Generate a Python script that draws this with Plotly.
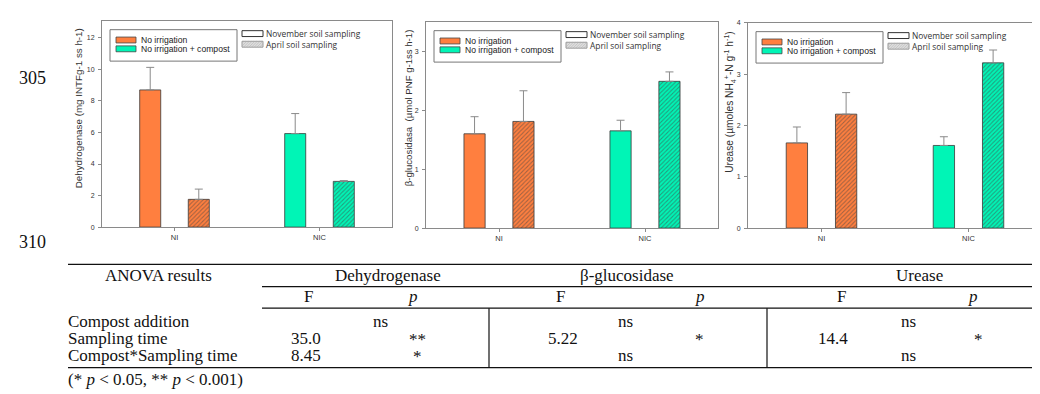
import plotly.graph_objects as go

W, H = 1040, 394

# ---------------- data ----------------
categories = ["NI", "NIC"]

dehyd_nov = [8.70, 5.93]
dehyd_nov_err = [1.43, 1.27]
dehyd_apr = [1.76, 2.90]
dehyd_apr_err = [0.65, 0.05]

gluc_nov = [1.60, 1.65]
gluc_nov_err = [0.29, 0.18]
gluc_apr = [1.81, 2.49]
gluc_apr_err = [0.52, 0.16]

urease_nov = [1.66, 1.61]
urease_nov_err = [0.31, 0.17]
urease_apr = [2.22, 3.22]
urease_apr_err = [0.42, 0.25]

treatments = ["No irrigation", "No irrigation + compost"]
samplings = ["November soil sampling", "April soil sampling"]

y_titles = [
    "Dehydrogenase (mg INTFg-1 ss h-1)",
    "β-glucosidasa  (µmol PNF g-1ss h-1)",
    "Urease (µmoles NH<sub>4</sub><sup>+</sup>-N g<sup>-1</sup> h<sup>-1</sup>)",
]
y_ranges = [[0, 13.08], [0, 3.5], [0, 4.0]]
y_dticks = [2, 1, 1]

anova_header = "ANOVA results"
anova_enzymes = ["Dehydrogenase", "β-glucosidase", "Urease"]
anova_rows = ["Compost addition", "Sampling time", "Compost*Sampling time"]
anova_dehyd = [["ns"], ["35.0", "**"], ["8.45", "*"]]
anova_gluc = [["ns"], ["5.22", "*"], ["ns"]]
anova_urease = [["ns"], ["14.4", "*"], ["ns"]]
anova_note = "(* <i>p</i> &lt; 0.05, ** <i>p</i> &lt; 0.001)"
line_numbers = ["305", "310"]

# ---------------- style ----------------
ORANGE = "#FF7F3F"
GREEN = "#00F5B6"
HATCH = ["#7a3414", "#00745a"]
COLORS = [ORANGE, GREEN]
FRAME = "#8a8a8a"
SANS = "Liberation Sans, Arial, sans-serif"
SERIF = "Liberation Serif, Times New Roman, serif"


def px(x):
    return x / W


def py(y):
    return 1 - y / H


# panel pixel boxes: left, right, top, bottom
panels = [(94, 384, 9, 219), (418, 710, 10, 220), (740, 1034, 11, 220)]
title_dx = [-24, -18, -17.5]
title_cy = [98, 98, 92]
title_fs = [9.8, 9.6, 10.2]
data = [
    (dehyd_nov, dehyd_nov_err, dehyd_apr, dehyd_apr_err),
    (gluc_nov, gluc_nov_err, gluc_apr, gluc_apr_err),
    (urease_nov, urease_nov_err, urease_apr, urease_apr_err),
]

fig = go.Figure()
layout = dict(
    width=W, height=H, margin=dict(l=0, r=0, t=0, b=0),
    paper_bgcolor="white", plot_bgcolor="white", showlegend=False,
    font=dict(family=SANS, color="#333"),
)
shapes = []
annotations = []

BW = 0.145
for i, ((l, r, t, b), (nov, nov_e, apr, apr_e)) in enumerate(zip(panels, data)):
    k = "" if i == 0 else str(i + 1)
    xa, ya = "x" + k, "y" + k
    fig.add_trace(go.Bar(
        x=categories, y=nov, xaxis=xa, yaxis=ya, width=BW, offset=-0.24,
        marker=dict(color=COLORS, line=dict(color="#3a3a3a", width=0.8)),
        error_y=dict(type="data", array=nov_e, arrayminus=[0, 0], symmetric=False,
                     color="#8a8a8a", thickness=1, width=4),
        name=samplings[0],
    ))
    fig.add_trace(go.Bar(
        x=categories, y=apr, xaxis=xa, yaxis=ya, width=BW, offset=0.095,
        marker=dict(color=COLORS, line=dict(color="#3a3a3a", width=0.8),
                    pattern=dict(shape="/", fillmode="overlay", fgcolor=HATCH,
                                 size=3, solidity=0.35)),
        error_y=dict(type="data", array=apr_e, arrayminus=[0, 0], symmetric=False,
                     color="#8a8a8a", thickness=1, width=4),
        name=samplings[1],
    ))
    layout["xaxis" + k] = dict(
        domain=[px(l), px(r)], anchor=ya, range=[-0.5, 1.5], type="category",
        showline=True, linecolor=FRAME, linewidth=1, mirror=True,
        ticks="outside", ticklen=3, tickcolor=FRAME, showgrid=False,
        tickfont=dict(size=7.5, color="#333"),
    )
    layout["yaxis" + k] = dict(
        domain=[py(b), py(t)], anchor=xa, range=y_ranges[i], dtick=y_dticks[i],
        showline=True, linecolor=FRAME, linewidth=1, mirror=True,
        ticks="outside", ticklen=3, tickcolor=FRAME, showgrid=False,
        zeroline=False, tickfont=dict(size=7, color="#333"),
        ticklabelstandoff=2,
    )
    # y axis title
    annotations.append(dict(
        x=px(l + title_dx[i]), y=py(title_cy[i]),
        xref="paper", yref="paper",
        text=y_titles[i], textangle=-90, showarrow=False,
        font=dict(size=title_fs[i], color="#333"),
        xanchor="center", yanchor="middle",
    ))
    # treatment legend box
    shapes.append(dict(type="rect", xref="paper", yref="paper",
                       x0=px(l + 8), x1=px(l + 135), y0=py(t + 41), y1=py(t + 9),
                       line=dict(color="#777", width=1), fillcolor="white"))
    for j, name in enumerate(treatments):
        cy = t + 19.5 + 9 * j
        shapes.append(dict(type="rect", xref="paper", yref="paper",
                           x0=px(l + 14), x1=px(l + 34), y0=py(cy + 3), y1=py(cy - 3),
                           line=dict(color="#444", width=0.8), fillcolor=COLORS[j]))
        annotations.append(dict(x=px(l + 37), y=py(cy), xref="paper", yref="paper",
                                text=name, showarrow=False, xanchor="left",
                                yanchor="middle", font=dict(size=8.6, color="#222")))
    # sampling legend
    x0, x1 = l + 140, l + 161
    for j in range(2):
        cy = t + 13 + 10.8 * j
        shapes.append(dict(type="rect", xref="paper", yref="paper",
                           x0=px(x0), x1=px(x1), y0=py(cy + 3), y1=py(cy - 3),
                           line=dict(color="#333" if j == 0 else "#999", width=1),
                           fillcolor="white" if j == 0 else "#eeeeee"))
        if j == 1:
            hgt = 6
            segs = []
            s = x0 - hgt
            while s < x1:
                xa0, ya0 = s, cy + 3
                xa1, ya1 = s + hgt, cy - 3
                if xa0 < x0:
                    ya0 -= (x0 - xa0)
                    xa0 = x0
                if xa1 > x1:
                    ya1 += (xa1 - x1)
                    xa1 = x1
                if xa1 > xa0:
                    segs.append(f"M{px(xa0):.5f},{py(ya0):.5f}L{px(xa1):.5f},{py(ya1):.5f}")
                s += 1.6
            shapes.append(dict(type="path", xref="paper", yref="paper",
                               path="".join(segs), line=dict(color="#aaa", width=0.6)))
    annotations.append(dict(x=px(x1 + 1), y=py(t + 13 + 5.4), xref="paper", yref="paper",
                            text="<br>".join(samplings), showarrow=False, xanchor="left",
                            yanchor="middle", align="left",
                            font=dict(family="Open Sans, sans-serif", size=8.4,
                                      color="#333")))

# ---------------- line numbers ----------------
for txt, yy in zip(line_numbers, [67, 234]):
    annotations.append(dict(x=px(9), y=py(yy), xref="paper", yref="paper",
                            text=txt, showarrow=False, xanchor="left", yanchor="middle",
                            font=dict(family=SERIF, size=18, color="#111")))

# ---------------- ANOVA table ----------------
TF = dict(family=SERIF, size=17, color="#111")


def ta(x, y, text, anchor="center"):
    annotations.append(dict(x=px(x), y=py(y), xref="paper", yref="paper", text=text,
                            showarrow=False, xanchor=anchor, yanchor="middle", font=TF))


def hline(x0, x1, y):
    shapes.append(dict(type="line", xref="paper", yref="paper", x0=px(x0), x1=px(x1),
                       y0=py(y), y1=py(y), line=dict(color="#111", width=1.2)))


def vline(x, y0, y1):
    shapes.append(dict(type="line", xref="paper", yref="paper", x0=px(x), x1=px(x),
                       y0=py(y0), y1=py(y1), line=dict(color="#111", width=1.2)))


hline(60, 1037, 257)
hline(254, 1037, 279.5)
hline(254, 1037, 301.5)
hline(60, 1037, 362)
vline(481, 301.5, 362)
vline(759, 301.5, 362)

row_y = [315, 332.5, 350]
ta(150, 268, anova_header)
ta(58, row_y[0], anova_rows[0], "left")
ta(58, row_y[1], anova_rows[1], "left")
ta(58, row_y[2], anova_rows[2], "left")

head_x = [380, 619, 911]
f_x = [300, 552, 833]
p_x = [405, 692, 965]
ns_x = [372, 617, 900]
fval_x = [298, 555, 825]
star_x = [409, 691, 970]
for e, (name, rows) in enumerate(zip(anova_enzymes, [anova_dehyd, anova_gluc, anova_urease])):
    ta(head_x[e], 268, name)
    ta(f_x[e], 290, "F")
    ta(p_x[e], 290, "<i>p</i>")
    for ri, row in enumerate(rows):
        if len(row) == 1:
            ta(ns_x[e], row_y[ri], row[0])
        else:
            ta(fval_x[e], row_y[ri], row[0])
            ta(star_x[e], row_y[ri] + 1, row[1])

ta(58, 374, anova_note, "left")

layout["shapes"] = shapes
layout["annotations"] = annotations
fig.update_layout(**layout)
fig.write_html("out.html")
